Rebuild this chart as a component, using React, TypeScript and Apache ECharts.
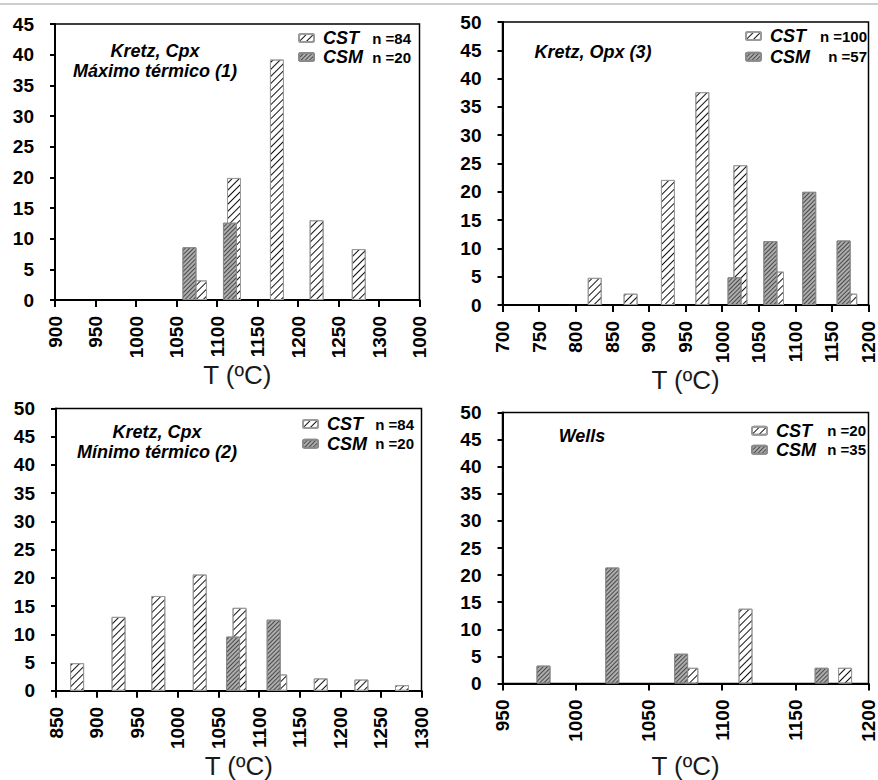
import React, { useEffect, useRef } from 'react';
import * as echarts from 'echarts';

const FONT = '"Liberation Sans", Arial, Helvetica, sans-serif';

// ---- Data ----
const SERIES_NAMES = ['CST', 'CSM'];
const X_TITLE = 'T (ºC)';
const PANEL_TITLES = ['Kretz, Cpx\nMáximo térmico (1)', 'Kretz, Opx (3)', 'Kretz, Cpx\nMínimo térmico (2)', 'Wells'];
const N_CST = [84, 100, 84, 20];
const N_CSM = [20, 57, 20, 35];

const X_MIN = [900, 700, 850, 950];
const X_MAX = [1350, 1200, 1300, 1200];
const X_STEP = 50;
const Y_MAX = [45, 50, 50, 50];
const Y_STEP = 5;

const P1_TICKS = ['900', '950', '1000', '1050', '1100', '1150', '1200', '1250', '1300', '1000'];
const P2_TICKS = ['700', '750', '800', '850', '900', '950', '1000', '1050', '1100', '1150', '1200'];
const P3_TICKS = ['850', '900', '950', '1000', '1050', '1100', '1150', '1200', '1250', '1300'];
const P4_TICKS = ['950', '1000', '1050', '1100', '1150', '1200'];

// Panel 1: Kretz, Cpx – máximo térmico
const P1_CST_T = [1079, 1121, 1174, 1223, 1275];
const P1_CST_V = [3.2, 19.9, 39.2, 13.0, 8.3];
const P1_CSM_T = [1066, 1116];
const P1_CSM_V = [8.6, 12.6];

// Panel 2: Kretz, Opx
const P2_CST_T = [826, 875, 926, 973, 1025, 1075, 1175];
const P2_CST_V = [4.8, 2.0, 22.1, 37.6, 24.7, 5.9, 2.0];
const P2_CSM_T = [1017, 1066, 1119, 1166];
const P2_CSM_V = [4.9, 11.3, 20.0, 11.4];

// Panel 3: Kretz, Cpx – mínimo térmico
const P3_CST_T = [876, 927, 976, 1027, 1076, 1126, 1176, 1226, 1276];
const P3_CST_V = [4.9, 13.1, 16.8, 20.6, 14.7, 2.9, 2.2, 2.0, 1.0];
const P3_CSM_T = [1068, 1118];
const P3_CSM_V = [9.6, 12.6];

// Panel 4: Wells
const P4_CST_T = [1079, 1116, 1184];
const P4_CST_V = [2.9, 13.8, 2.9];
const P4_CSM_T = [978, 1025, 1072, 1168];
const P4_CSM_V = [3.3, 21.4, 5.5, 2.9];

const X_TICKS = [P1_TICKS, P2_TICKS, P3_TICKS, P4_TICKS];
const CST_T = [P1_CST_T, P2_CST_T, P3_CST_T, P4_CST_T];
const CST_V = [P1_CST_V, P2_CST_V, P3_CST_V, P4_CST_V];
const CSM_T = [P1_CSM_T, P2_CSM_T, P3_CSM_T, P4_CSM_T];
const CSM_V = [P1_CSM_V, P2_CSM_V, P3_CSM_V, P4_CSM_V];

// ---- Layout (positions / sizes only) ----
const GRIDS = [
  { left: 55, top: 24, width: 364.5, height: 276 },
  { left: 502.5, top: 22, width: 372, height: 283 },
  { left: 56, top: 408.5, width: 365.5, height: 283 },
  { left: 502.5, top: 412.5, width: 370.5, height: 271 },
];
const NAME_GAPS = [59, 61, 60, 69];
const LEGENDS = [
  { left: 298, top: 29, gap: 1, bW: 42 },
  { left: 745, top: 27, gap: 2.7, bW: 51 },
  { left: 302, top: 415, gap: 1.7, bW: 41 },
  { left: 751, top: 421.7, gap: 1, bW: 44 },
];
const NOTES = [
  { x: 155, y: 61 },
  { x: 593, y: 52 },
  { x: 157, y: 442 },
  { x: 582, y: 436 },
];

const CST_STYLE = {
  color: '#ffffff',
  borderColor: '#9a9a9a',
  borderWidth: 1,
  decal: {
    symbol: 'rect',
    symbolSize: 1,
    dashArrayX: [1, 0],
    dashArrayY: [1, 3.4],
    rotation: -Math.PI / 4,
    color: '#111111',
  },
};
const CSM_STYLE = {
  color: '#adadad',
  borderColor: '#8a8a8a',
  borderWidth: 1,
  decal: {
    symbol: 'rect',
    symbolSize: 1,
    dashArrayX: [1, 0],
    dashArrayY: [0.9, 2],
    rotation: -Math.PI / 4,
    color: '#4a4a4a',
  },
};

function buildOption() {
  const grid = GRIDS.map((g) => ({ ...g, show: true, borderColor: '#000', borderWidth: 1.5, backgroundColor: 'transparent' }));

  const xAxis = GRIDS.map((_, i) => ({
    type: 'value',
    gridIndex: i,
    min: X_MIN[i],
    max: X_MAX[i],
    interval: X_STEP,
    name: X_TITLE,
    nameLocation: 'middle',
    nameGap: NAME_GAPS[i],
    nameTextStyle: { fontFamily: FONT, fontSize: 26, color: '#1a1a1a' },
    axisLine: { show: true, onZero: false, lineStyle: { color: '#000', width: 2 } },
    axisTick: { show: true, inside: false, length: 7, lineStyle: { color: '#000', width: 2 } },
    axisLabel: {
      rotate: 90,
      margin: 16,
      fontFamily: FONT,
      fontSize: 19,
      fontWeight: 'bold',
      color: '#000',
      showMinLabel: true,
      showMaxLabel: true,
      formatter: (v: number) => X_TICKS[i][Math.round((v - X_MIN[i]) / X_STEP)] ?? '',
    },
    splitLine: { show: false },
  }));

  const yAxis = GRIDS.map((_, i) => ({
    type: 'value',
    gridIndex: i,
    min: 0,
    max: Y_MAX[i],
    interval: Y_STEP,
    axisLine: { show: true, lineStyle: { color: '#000', width: 2 } },
    axisTick: { show: true, inside: false, length: 5, lineStyle: { color: '#000', width: 2 } },
    axisLabel: { margin: 21, fontFamily: FONT, fontSize: 19, fontWeight: 'bold', color: '#000' },
    splitLine: { show: false },
  }));

  const series: any[] = [];
  GRIDS.forEach((_, i) => {
    series.push({
      type: 'bar',
      name: SERIES_NAMES[0],
      xAxisIndex: i,
      yAxisIndex: i,
      barWidth: 14,
      barGap: '-100%',
      data: CST_T[i].map((t, k) => [t, CST_V[i][k]]),
      itemStyle: CST_STYLE,
    });
    series.push({
      type: 'bar',
      name: SERIES_NAMES[1],
      xAxisIndex: i,
      yAxisIndex: i,
      barWidth: 14,
      barGap: '-100%',
      data: CSM_T[i].map((t, k) => [t, CSM_V[i][k]]),
      itemStyle: CSM_STYLE,
    });
  });

  const legend = LEGENDS.map((l, i) => ({
    orient: 'vertical',
    left: l.left,
    top: l.top,
    padding: 0,
    itemGap: l.gap,
    itemWidth: 15,
    itemHeight: 8,
    selectedMode: false,
    data: SERIES_NAMES,
    formatter: (name: string) => `{a|${name}}{b|n =${name === SERIES_NAMES[0] ? N_CST[i] : N_CSM[i]}}`,
    textStyle: {
      rich: {
        a: { fontFamily: FONT, fontSize: 18, fontWeight: 'bold', fontStyle: 'italic', color: '#000', width: 46, padding: [0, 0, 0, 4], lineHeight: 20 },
        b: { fontFamily: FONT, fontSize: 15, fontWeight: 'bold', color: '#000', width: l.bW, align: 'right', lineHeight: 20 },
      },
    },
  }));

  const graphic: any[] = [
    { type: 'rect', left: 0, top: 3, shape: { width: 878, height: 2 }, style: { fill: '#cdcdcd' }, silent: true },
  ];
  NOTES.forEach((n, i) => {
    graphic.push({
      type: 'text',
      x: n.x,
      y: n.y,
      silent: true,
      style: {
        text: PANEL_TITLES[i],
        fontFamily: FONT,
        fontSize: 18,
        fontWeight: 'bold',
        fontStyle: 'italic',
        fill: '#000',
        align: 'center',
        verticalAlign: 'middle',
        lineHeight: 20,
      },
    });
  });

  return {
    animation: false,
    backgroundColor: '#ffffff',
    textStyle: { fontFamily: FONT },
    grid,
    xAxis,
    yAxis,
    series,
    legend,
    graphic,
  };
}

export default function App() {
  const ref = useRef<HTMLDivElement>(null);
  useEffect(() => {
    if (!ref.current) return;
    const chart = echarts.init(ref.current, null, { renderer: 'svg' });
    chart.setOption(buildOption() as any);
    return () => chart.dispose();
  }, []);
  return (
    <div
      ref={ref}
      style={{ position: 'fixed', left: 0, top: 0, width: 878, height: 780, background: '#fff' }}
    />
  );
}
